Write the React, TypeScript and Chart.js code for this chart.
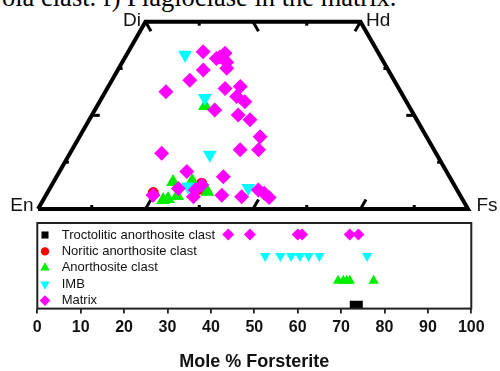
import React, { useEffect, useRef } from 'react';
import { Chart, registerables } from 'chart.js';
import { drawPoint } from 'chart.js/helpers';

Chart.register(...registerables);

// ---------- data ----------
const seriesNames = [
  'Troctolitic anorthosite clast',
  'Noritic anorthosite clast',
  'Anorthosite clast',
  'IMB',
  'Matrix',
];

const cornerLabels = ['En', 'Di', 'Hd', 'Fs'];
const cornerWo = [0, 50, 50, 0];
const cornerFs = [0, 0, 50, 100];

// Pyroxene compositions (mol % Wo, mol % Fs)
const matrixWo = [42.0, 40.2, 41.6, 39.2, 37.6, 37.1, 34.4, 31.3, 32.2, 32.7, 30.0, 28.6, 26.4, 25.1, 23.8, 19.3, 15.8, 15.8, 14.9, 10.0, 8.6, 6.4, 5.1, 5.5, 3.3, 3.7, 3.7, 3.3, 5.1, 4.2, 3.1, 40.6];
const matrixFs = [17.4, 21.4, 22.7, 24.3, 25.1, 19.9, 18.1, 14.1, 27.4, 30.7, 31.2, 33.8, 27.9, 34.0, 37.4, 42.0, 39.1, 43.4, 21.3, 29.6, 38.8, 34.9, 34.0, 29.9, 34.5, 24.9, 40.9, 45.7, 48.7, 50.5, 52.2, 22.0];
const imbWo = [41.2, 29.6, 14.5, 6.0, 5.6];
const imbFs = [13.6, 24.0, 32.7, 31.9, 46.1];
const anorthWo = [27.5, 7.2, 7.5, 2.4, 2.7, 3.5, 4.6];
const anorthFs = [25.1, 27.8, 32.1, 27.9, 28.9, 30.6, 37.1];
const noriticWo = [6.9, 5.3, 4.4];
const noriticFs = [34.6, 34.9, 24.6];

// Olivine compositions (mole % Forsterite)
const matrixFo = [44, 49, 60, 61, 72, 74];
const imbFo = [52.5, 56, 58.5, 60.5, 62.5, 65, 76];
const anorthFo = [69.3, 70.5, 71.3, 72, 77.5];
const noriticFo: number[] = [];
const trocFoRange = [72, 75];
const foTicks = [0, 10, 20, 30, 40, 50, 60, 70, 80, 90, 100];

// ---------- styles ----------
const SANS = "'Liberation Sans', Arial, sans-serif";
const MAGENTA = '#ff00ff';
const CYAN = '#00ffff';
const GREEN = '#00ee00';
const RED = '#ff0000';
const BLACK = '#000000';

const toXY = (wo: number, fs: number) => ({ x: fs + wo / 2, y: wo });
const pts = (wo: number[], fs: number[]) => wo.map((w, i) => toXY(w, fs[i]));

// ---------- top chart plugins ----------
const quadDecor = {
  id: 'quadDecor',
  beforeDatasetsDraw(chart: any) {
    const { ctx, scales } = chart;
    const sx = scales.x, sy = scales.y;
    const P = (wo: number, fs: number) => [sx.getPixelForValue(fs + wo / 2), sy.getPixelForValue(wo)];
    const c = 0.5, s = Math.sqrt(3) / 2;
    const ticks: { p: number[]; dx: number; dy: number; len: number }[] = [];
    // base (En - Fs)
    [12.5, 25, 37.5, 50, 62.5, 75, 87.5].forEach((fs, i) => {
      const long = i % 2 === 1;
      ticks.push({ p: P(0, fs), dx: long ? c : 0, dy: long ? -s : -1, len: long ? 11 : 4 });
    });
    // top (Di - Hd)
    [0, 12.5, 25, 37.5, 50].forEach((fs, i) => {
      const long = i % 2 === 0;
      const dx = fs === 50 ? -c : long ? c : 0;
      ticks.push({ p: P(50, fs), dx, dy: long ? s : 1, len: long ? 11 : 4 });
    });
    // sides
    [12.5, 25, 37.5].forEach((wo, i) => {
      const long = i === 1;
      ticks.push({ p: P(wo, 0), dx: 1, dy: 0, len: long ? 8 : 4 });
      ticks.push({ p: P(wo, 100 - wo), dx: -1, dy: 0, len: long ? 8 : 4 });
    });
    ctx.save();
    ctx.strokeStyle = BLACK;
    ctx.lineWidth = 3;
    ctx.lineCap = 'butt';
    ticks.forEach((t) => {
      ctx.beginPath();
      ctx.moveTo(t.p[0], t.p[1]);
      ctx.lineTo(t.p[0] + t.dx * t.len, t.p[1] + t.dy * t.len);
      ctx.stroke();
    });
    ctx.restore();
  },
  afterDraw(chart: any) {
    const { ctx, scales } = chart;
    const sx = scales.x, sy = scales.y;
    ctx.save();
    ctx.fillStyle = '#111';
    ctx.font = `19px ${SANS}`;
    ctx.textBaseline = 'alphabetic';
    const offs = [
      { dx: -4.5, dy: 1.5, align: 'right' },
      { dx: -4.5, dy: 4.8, align: 'right' },
      { dx: 5.5, dy: 4.3, align: 'left' },
      { dx: 8.5, dy: 2, align: 'left' },
    ];
    cornerLabels.forEach((lab, i) => {
      const px = sx.getPixelForValue(cornerFs[i] + cornerWo[i] / 2);
      const py = sy.getPixelForValue(cornerWo[i]);
      ctx.textAlign = offs[i].align;
      ctx.fillText(lab, px + offs[i].dx, py + offs[i].dy);
    });
    ctx.restore();
  },
};

// ---------- bottom chart plugins ----------
const legendEntries = [
  { style: 'rect', rotation: 0, color: BLACK, radius: 5 },
  { style: 'circle', rotation: 0, color: RED, radius: 4.2 },
  { style: 'triangle', rotation: 0, color: GREEN, radius: 5.5 },
  { style: 'triangle', rotation: 180, color: CYAN, radius: 5.5 },
  { style: 'rectRot', rotation: 0, color: MAGENTA, radius: 5.3 },
];

const boxAndLegend = {
  id: 'boxAndLegend',
  afterDraw(chart: any) {
    const { ctx, chartArea: a } = chart;
    ctx.save();
    ctx.strokeStyle = '#222';
    ctx.lineWidth = 2;
    ctx.strokeRect(a.left, a.top, a.right - a.left, a.bottom - a.top);
    ctx.font = `13px ${SANS}`;
    ctx.textBaseline = 'middle';
    ctx.textAlign = 'left';
    seriesNames.forEach((name, i) => {
      const e = legendEntries[i];
      const y = a.top + 12 + i * 16.4;
      ctx.fillStyle = e.color;
      drawPoint(ctx, { pointStyle: e.style, rotation: e.rotation, radius: e.radius, borderWidth: 0 } as any, a.left + 7.7, y);
      ctx.fillStyle = '#111';
      ctx.fillText(name, a.left + 24.4, y);
    });
    ctx.restore();
  },
};

const pointDs = (label: string, data: any[], color: string, style: string, radius: number, rotation: number, order: number) => ({
  label,
  data,
  pointStyle: style,
  pointRadius: radius,
  pointHoverRadius: radius,
  pointRotation: rotation,
  pointBackgroundColor: color,
  backgroundColor: color,
  pointBorderWidth: 0,
  borderWidth: 0,
  showLine: false,
  order,
});

export default function App() {
  const topRef = useRef<HTMLCanvasElement>(null);
  const botRef = useRef<HTMLCanvasElement>(null);

  useEffect(() => {
    const outline = cornerWo.map((w, i) => toXY(w, cornerFs[i]));
    outline.push(toXY(cornerWo[0], cornerFs[0]));

    const top = new Chart(topRef.current as HTMLCanvasElement, {
      type: 'scatter',
      data: {
        datasets: [
          {
            label: 'outline',
            data: outline,
            showLine: true,
            borderColor: BLACK,
            borderWidth: 4,
            borderJoinStyle: 'miter',
            pointRadius: 0,
            fill: false,
            order: 10,
          } as any,
          pointDs(seriesNames[1], pts(noriticWo, noriticFs), RED, 'circle', 5.5, 0, 4),
          pointDs(seriesNames[2], pts(anorthWo, anorthFs), GREEN, 'triangle', 8, 0, 3),
          pointDs(seriesNames[3], pts(imbWo, imbFs), CYAN, 'triangle', 8, 180, 2),
          pointDs(seriesNames[4], pts(matrixWo, matrixFs), MAGENTA, 'rectRot', 7.5, 0, 1),
        ],
      },
      options: {
        animation: false,
        responsive: false,
        devicePixelRatio: 1,
        events: [],
        layout: { padding: 0, autoPadding: false },
        plugins: { legend: { display: false }, tooltip: { enabled: false } },
        scales: {
          x: { type: 'linear', display: false, min: -8.837, max: 107.44 },
          y: { type: 'linear', display: false, min: -1.6, max: 55.79 },
        },
      } as any,
      plugins: [quadDecor],
    });

    const ROW = { troc: 0.22, anorth: 1.62, imb: 3.07, matrix: 4.33 };
    const bot = new Chart(botRef.current as HTMLCanvasElement, {
      type: 'scatter',
      data: {
        datasets: [
          {
            label: seriesNames[0],
            data: trocFoRange.map((v) => ({ x: v, y: ROW.troc })),
            showLine: true,
            borderColor: BLACK,
            borderWidth: 8,
            borderCapStyle: 'butt',
            pointRadius: 0,
            order: 5,
          } as any,
          pointDs(seriesNames[1], noriticFo.map((v) => ({ x: v, y: 0 })), RED, 'circle', 5, 0, 4),
          pointDs(seriesNames[2], anorthFo.map((v) => ({ x: v, y: ROW.anorth })), GREEN, 'triangle', 6, 0, 3),
          pointDs(seriesNames[3], imbFo.map((v) => ({ x: v, y: ROW.imb })), CYAN, 'triangle', 6, 180, 2),
          pointDs(seriesNames[4], matrixFo.map((v) => ({ x: v, y: ROW.matrix })), MAGENTA, 'rectRot', 6, 0, 1),
        ],
      },
      options: {
        animation: false,
        responsive: false,
        devicePixelRatio: 1,
        events: [],
        layout: { padding: { left: 37.3, right: 28.7, top: 8, bottom: 0 }, autoPadding: false },
        plugins: { legend: { display: false }, tooltip: { enabled: false } },
        scales: {
          x: {
            type: 'linear',
            min: 0,
            max: 100,
            afterBuildTicks: (scale: any) => {
              scale.ticks = foTicks.map((v) => ({ value: v }));
            },
            ticks: {
              padding: 4.4,
              color: '#111',
              maxRotation: 0,
              autoSkip: false,
              font: { family: SANS, size: 16, weight: 'bold' },
            },
            grid: {
              drawOnChartArea: false,
              drawTicks: true,
              tickLength: 5,
              color: '#222',
              lineWidth: 1.8,
            },
            border: { display: false },
            title: {
              display: true,
              text: 'Mole % Forsterite',
              color: '#111',
              font: { family: SANS, size: 18, weight: 'bold', lineHeight: 1 },
              padding: { top: 11.4, bottom: 0 },
            },
          },
          y: { type: 'linear', display: false, min: 0, max: 5 },
        },
      } as any,
      plugins: [boxAndLegend],
    });

    return () => {
      top.destroy();
      bot.destroy();
    };
  }, []);

  return (
    <div style={{ position: 'absolute', left: 0, top: 0, width: 500, height: 371, overflow: 'hidden', background: '#fff' }}>
      <div
        style={{
          position: 'absolute',
          left: 2,
          top: -16.2,
          fontFamily: "'Liberation Serif', 'Times New Roman', serif",
          fontSize: 26.5,
          lineHeight: '26px',
          whiteSpace: 'nowrap',
          color: '#000',
        }}
      >
        ola clast. f) Plagioclase in the matrix.
      </div>
      <canvas ref={topRef} width={500} height={215} style={{ position: 'absolute', left: 0, top: 0, width: 500, height: 215 }} />
      <canvas ref={botRef} width={500} height={156} style={{ position: 'absolute', left: 0, top: 215, width: 500, height: 156 }} />
    </div>
  );
}
